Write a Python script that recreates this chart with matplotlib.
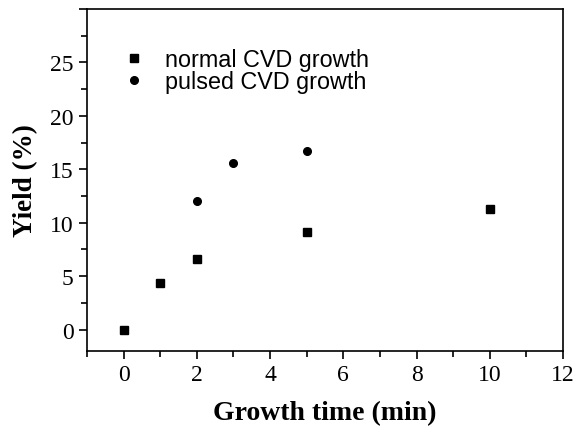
import matplotlib.pyplot as plt
from matplotlib.ticker import MultipleLocator

normal_t = [0, 1, 2, 5, 10]
normal_yield = [0, 4.35, 6.65, 9.15, 11.25]
pulsed_t = [0, 2, 3, 5]
pulsed_yield = [0, 12.0, 15.55, 16.75]

fig = plt.figure(figsize=(5.78, 4.31), dpi=100)
ax = fig.add_axes([0.1505, 0.1833, 0.8235, 0.7935])

ax.plot(normal_t, normal_yield, 's', color='black', ms=5.5, label='normal CVD growth')
ax.plot(pulsed_t, pulsed_yield, 'o', color='black', ms=5.5, label='pulsed CVD growth')

ax.set_xlim(-1, 12)
ax.set_ylim(-2, 30)
ax.xaxis.set_major_locator(MultipleLocator(2))
ax.xaxis.set_minor_locator(MultipleLocator(1))
ax.set_yticks([0, 5, 10, 15, 20, 25, 30])
ax.set_yticklabels(['0', '5', '10', '15', '20', '25', ''])
ax.yaxis.set_minor_locator(MultipleLocator(2.5))
ax.tick_params(which='both', direction='out', top=False, right=False)
ax.tick_params(which='major', length=6, width=1.2)
ax.tick_params(which='minor', length=4, width=1.2)
for lab in ax.get_xticklabels() + ax.get_yticklabels():
    lab.set_fontfamily('Liberation Serif')
    lab.set_fontsize(17)
for s in ax.spines.values():
    s.set_linewidth(1.2)

ax.set_xlabel('Growth time (min)', family='Liberation Serif', fontweight='bold', fontsize=20, labelpad=11)
ax.set_ylabel('Yield (%)', family='Liberation Serif', fontweight='bold', fontsize=19.5, labelpad=9)

ax.legend(loc='upper left', bbox_to_anchor=(0.075, 0.885), frameon=False,
          prop={'family': 'Liberation Sans', 'size': 16.8}, handletextpad=0.8,
          labelspacing=-0.04, handlelength=1.0, borderpad=0, borderaxespad=0)

fig.savefig('out.png', dpi=100)
